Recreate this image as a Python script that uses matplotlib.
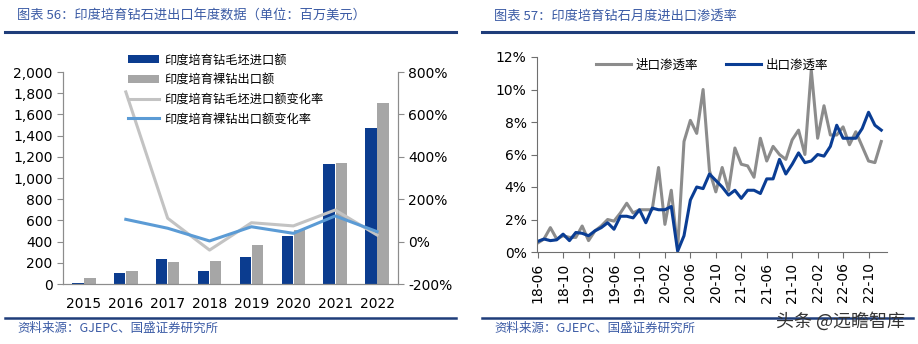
import matplotlib
matplotlib.use('Agg')
import matplotlib.pyplot as plt
import numpy as np
from matplotlib.ticker import FuncFormatter

plt.rcParams['font.family'] = ['DejaVu Sans', 'Noto Sans CJK SC']

# 图表56 年度数据（百万美元）
years = ['2015', '2016', '2017', '2018', '2019', '2020', '2021', '2022']
rough_import = [10, 102, 232, 126, 256, 452, 1132, 1476]
polished_export = [55, 122, 208, 214, 372, 505, 1145, 1712]
rough_chg = [np.nan, 706, 110, -40, 89, 74, 149, 31]
polished_chg = [np.nan, 105, 63, 3, 70, 39, 121, 47]

# 图表57 月度渗透率（%）
months = ['18-06', '18-07', '18-08', '18-09', '18-10', '18-11', '18-12',
          '19-01', '19-02', '19-03', '19-04', '19-05', '19-06', '19-07', '19-08', '19-09', '19-10', '19-11', '19-12',
          '20-01', '20-02', '20-03', '20-04', '20-05', '20-06', '20-07', '20-08', '20-09', '20-10', '20-11', '20-12',
          '21-01', '21-02', '21-03', '21-04', '21-05', '21-06', '21-07', '21-08', '21-09', '21-10', '21-11', '21-12',
          '22-01', '22-02', '22-03', '22-04', '22-05', '22-06', '22-07', '22-08', '22-09', '22-10', '22-11', '22-12']
import_rate = [0.55, 0.8, 1.5, 0.8, 1.0, 0.9, 0.9,
               1.6, 0.7, 1.3, 1.6, 2.0, 1.9, 2.4, 3.0, 2.4, 2.6, 2.6, 2.6,
               5.2, 1.7, 3.8, 0.2, 6.8, 8.1, 7.3, 10.0, 5.0, 3.7, 5.2, 3.8,
               6.4, 5.4, 5.3, 4.6, 7.0, 5.6, 6.5, 6.0, 5.7, 6.9, 7.5, 6.0,
               11.2, 7.0, 9.0, 7.2, 7.2, 7.7, 6.6, 7.4, 6.5, 5.6, 5.5, 6.8]
export_rate = [0.65, 0.8, 0.7, 0.75, 1.1, 0.7, 1.2,
               1.15, 1.0, 1.3, 1.5, 1.8, 1.4, 2.2, 2.2, 2.1, 2.6, 1.8, 2.7,
               2.6, 2.6, 2.8, 0.05, 1.0, 3.2, 4.0, 3.9, 4.8, 4.4, 4.0, 3.5,
               3.8, 3.3, 3.8, 3.8, 3.6, 4.5, 4.5, 5.7, 4.8, 5.4, 6.1, 5.5,
               5.6, 6.0, 5.9, 6.5, 7.8, 7.0, 7.0, 7.0, 7.6, 8.6, 7.8, 7.5]

W, H = 918, 344
fig = plt.figure(figsize=(W / 100, H / 100), dpi=100)

title_color = '#3b5ba5'
rule_color = '#1f3d7a'
cjk = ['Noto Sans CJK SC', 'DejaVu Sans']


def px_axes(x0, y0, x1, y1):
    return fig.add_axes([x0 / W, 1 - y1 / H, (x1 - x0) / W, (y1 - y0) / H])


def header_footer(x0, x1, title):
    fig.text(x0 + 12 / W, 1 - 16 / H, title, color=title_color, fontsize=9.5,
             family=cjk, va='center', style='italic')
    fig.add_artist(plt.Line2D([x0, x1], [1 - 32 / H] * 2, color=rule_color, lw=2.2))
    fig.add_artist(plt.Line2D([x0, x1], [1 - 318 / H] * 2, color=rule_color, lw=1.8))
    fig.text(x0 + 12 / W, 1 - 328 / H, '资料来源：GJEPC、国盛证券研究所', color=title_color,
             fontsize=9, family=cjk, va='center', style='italic')


header_footer(5 / W, 456 / W, '图表 56：印度培育钻石进出口年度数据（单位：百万美元）')
header_footer(482 / W, 913 / W, '图表 57：印度培育钻石月度进出口渗透率')

# ---- 左图 ----
ax = px_axes(63, 72, 398, 284)
x = np.arange(len(years))
bw = 0.27
ax.bar(x - bw / 2 - 0.01, rough_import, bw, color='#0b3c8f', label='印度培育钻毛坯进口额', zorder=2)
ax.bar(x + bw / 2 + 0.01, polished_export, bw, color='#a6a6a6', label='印度培育裸钻出口额', zorder=2)
ax.set_xlim(-0.5, 7.5)
ax.set_ylim(0, 2000)
ax.set_yticks(range(0, 2001, 200))
ax.yaxis.set_major_formatter(FuncFormatter(lambda v, p: f'{int(v):,}'))
ax.set_xticks(x)
ax.set_xticklabels(years)
ax2 = ax.twinx()
ax2.plot(x, rough_chg, color='#c3c3c3', lw=2.2, label='印度培育钻毛坯进口额变化率', zorder=3)
ax2.plot(x, polished_chg, color='#5b9bd5', lw=2.2, label='印度培育裸钻出口额变化率', zorder=3)
ax2.set_ylim(-200, 800)
ax2.set_yticks(range(-200, 801, 200))
ax2.yaxis.set_major_formatter(FuncFormatter(lambda v, p: f'{int(v)}%'))

for a in (ax, ax2):
    a.spines['top'].set_visible(False)
    for s in ('left', 'right', 'bottom'):
        a.spines[s].set_color('#8c8c8c')
    a.tick_params(colors='#8c8c8c', labelcolor='black', labelsize=10, length=4)
ax.tick_params(axis='x', length=0, pad=9)

h1, l1 = ax.get_legend_handles_labels()
h2, l2 = ax2.get_legend_handles_labels()
leg = ax2.legend(h1 + h2, l1 + l2, loc='upper left', bbox_to_anchor=(0.16, 1.14),
                 frameon=False, prop={'family': cjk, 'size': 8.8}, handlelength=2.6,
                 handleheight=0.6, handletextpad=0.4, labelspacing=0.55)

# ---- 右图 ----
bx = px_axes(537, 57, 887, 252)
t = np.arange(len(months))
bx.plot(t, import_rate, color='#8c8c8c', lw=2.2, label='进口渗透率')
bx.plot(t, export_rate, color='#0a3d94', lw=2.2, label='出口渗透率')
bx.set_xlim(-0.1, 54.9)
bx.set_ylim(0, 12)
bx.set_yticks(range(0, 13, 2))
bx.yaxis.set_major_formatter(FuncFormatter(lambda v, p: f'{int(v)}%'))
bx.set_xticks(t[::4])
bx.set_xticklabels(months[::4], rotation=90)
for s in ('top', 'right'):
    bx.spines[s].set_visible(False)
for s in ('left', 'bottom'):
    bx.spines[s].set_color('#6f6f6f')
bx.tick_params(colors='#6f6f6f', labelcolor='black', labelsize=10, length=4)
bx.legend(loc='upper center', bbox_to_anchor=(0.5, 1.05), ncol=2, frameon=False,
          prop={'family': cjk, 'size': 9}, handlelength=2.8, handletextpad=0.4,
          columnspacing=2.2)

fig.text(905 / W, 1 - 321 / H, '头条 @远瞻智库', family=cjk, fontsize=13, color='#333333',
         ha='right', va='center')

fig.savefig('out.png', dpi=100)
